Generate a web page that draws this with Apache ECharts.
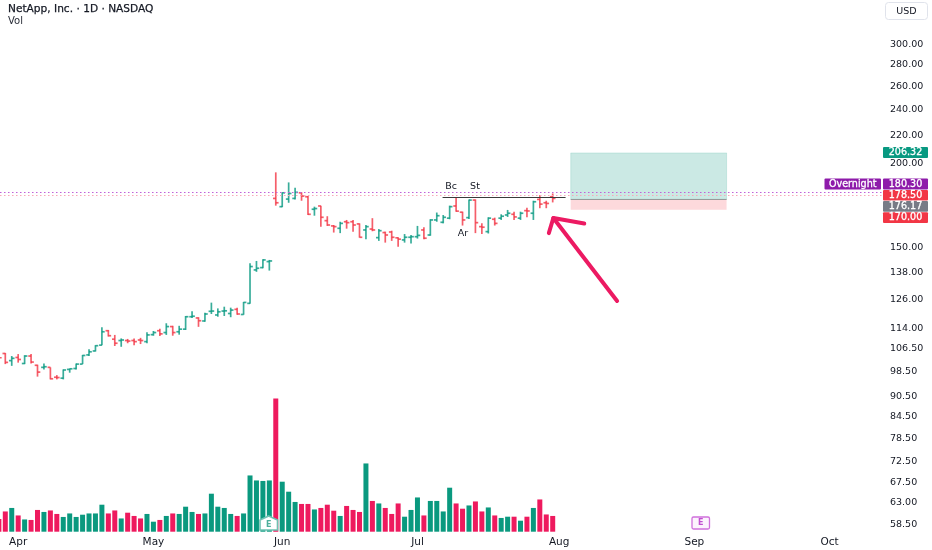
<!DOCTYPE html>
<html>
<head>
<meta charset="utf-8">
<style>html,body{margin:0;padding:0;background:#fff}#chart{width:932px;height:550px}</style>
<script src="https://cdn.jsdelivr.net/npm/echarts@6/dist/echarts.min.js"></script>
</head>
<body>
<div id="chart"></div>
<script>
// Bar numbers: trading-session index, -1 is the bar cut off by the left edge.
const firstBar = -1;
const opens = [103,104.2,101.7,102.8,100.7,103.3,100.1,99.4,99.4,96.1,95.8,98.7,99,100.5,103.7,105.1,107.2,112.6,109.4,108.9,108.9,108.9,109.1,108.5,111.1,112.6,111.9,114.2,112.2,113.2,118.1,117.6,116.4,120.3,118.8,120.4,119.4,121.1,119,123.6,138.5,139.6,142.5,176.7,171.8,176.3,176.7,180.1,177.7,170.3,172.2,163.8,160.9,159.6,163.2,163.2,162,158.7,159.2,154.6,157.3,157.6,154.5,153.4,154.8,155.1,158.7,156,164.2,162.9,165.2,172.2,168.6,165.5,175.7,160.5,157.8,164.6,165.2,167,167.4,165.2,169.5,168,176.1,174.1,177.7];
const highs = [104,104.4,103.3,104,103.6,104,100.3,100.7,99.4,96.8,98.7,99,100.7,103.7,105.7,107.2,113.9,112.9,111,109.7,109.5,109.7,109.9,112,112.5,113.4,115.5,114.5,114.5,118.4,120.3,117.9,119.7,123.9,121.5,122.2,121.8,121.8,124.2,141.7,142.8,143.6,143.3,193.1,180.4,186.6,183.2,180.4,178.1,171.8,172.4,166.3,161.4,163.2,164.2,164.2,162.3,161.4,165.2,159.2,157.8,158.3,154.8,156.5,156,160.9,160.2,164.6,168.4,167,172.4,177.3,168.9,176.1,176.1,162.3,165.7,165.5,167.4,169.9,168.9,168.9,171.2,175.3,178.7,175.3,179.7];
const lows = [101.5,100.5,99.9,101,100.5,100.7,96.3,98.7,95.4,95.4,95.4,97.6,98.7,100.5,103.3,104.9,107.2,110.4,106.9,106.6,107.9,107.2,107.6,107.9,110.7,110.6,111,110.7,111.1,112.9,117.6,114.1,116.1,119.2,118.1,118.4,117.9,118.9,118.9,123.4,137.6,139.3,138.2,172.4,171.5,174.1,176.1,175.3,167,166.6,160.5,160.9,157.3,157,159.4,157.8,154.6,153.8,158,152.9,152,152.9,149.9,152,151.6,154.1,153.8,155.6,163.2,162.3,164.6,168.9,161.1,164.8,157,156.5,156.8,161.1,164.2,165.9,164.2,164.2,165.7,164.2,170.9,170.9,174.3];
const closes = [102.7,101.1,102.5,102.1,103.3,101.2,97.8,99.6,95.6,96,98.5,98.9,100.5,103.5,104.8,107,112.2,110.7,107.9,109.1,108.7,108.5,108.9,111,111.9,111.4,114.2,111.9,113.2,118.1,118.3,116.5,119.2,120.4,120.1,120.5,120.8,119.2,124,140.1,139.3,143.3,142.8,174.1,180.1,179.7,180.4,178.1,167.4,170.7,165.7,161.4,160.5,162.3,162.7,161.4,154.8,160.5,158.7,158.3,156,154.8,153.8,154.8,155.1,155.8,154.3,164.2,166.6,165.7,171.8,169.2,164.2,175.7,162.7,160.2,165.2,162.3,166.3,168,165.9,168,169.3,174.7,173.3,173.7,176.7];
const volumes = [0.51,0.81,0.95,0.65,0.49,0.47,0.87,0.79,0.85,0.71,0.59,0.73,0.59,0.68,0.73,0.73,1.08,0.73,0.85,0.53,0.76,0.63,0.53,0.71,0.40,0.47,0.63,0.73,0.71,1.00,0.79,0.71,0.73,1.52,1.00,0.95,0.71,0.63,0.73,2.25,2.05,2.03,2.05,5.33,2.00,1.60,1.19,1.11,1.11,0.89,0.95,1.08,0.84,0.63,1.03,0.87,0.79,2.73,1.23,1.13,0.95,0.71,1.13,0.60,0.87,1.37,0.65,1.23,1.23,0.81,1.76,1.13,0.92,1.05,1.21,0.81,0.97,0.65,0.55,0.60,0.60,0.44,0.60,0.95,1.29,0.69,0.63];
const monthIndexes = [2,23,43,64,86,107,128];
const monthLabels = ['Apr','May','Jun','Jul','Aug','Sep','Oct'];
const priceTicks = [300,280,260,240,220,200,150,138,126,114,106.5,98.5,90.5,84.5,78.5,72.5,67.5,63,58.5];
const lastPrice = 178.5, overnightPrice = 180.3, targetPrice = 206.32, entryPrice = 176.17, stopPrice = 170;
const levelLinePrice = 177.3;
const arrowShaft = [[95,124.6],[85.1,165.3]];
const arrowHead = [[84.4,157],[85.1,165.3],[89.9,162.2]];

const GREEN = '#089981', RED = '#F23645', VOLRED = '#EE1A5E', VOLGREEN = '#0A997F';
const FONT = '"DejaVu Sans", sans-serif';
const TEXT = '#131722';

const bars = opens.map((o, i) => [i + firstBar, o, highs[i], lows[i], closes[i]]);
const vols = volumes.map((v, i) => ({
  value: [i + firstBar, v],
  itemStyle: { color: closes[i] >= opens[i] ? VOLGREEN : VOLRED }
}));

function renderBar(params, api) {
  const x = api.value(0), o = api.value(1), h = api.value(2), l = api.value(3), c = api.value(4);
  const top = api.coord([x, h]), bot = api.coord([x, l]);
  const op = api.coord([x, o]), cl = api.coord([x, c]);
  const color = c >= o ? GREEN : RED;
  const style = { stroke: color, lineWidth: 1.7, opacity: 0.8 };
  const lines = [
    [top[0], top[1], bot[0], bot[1]],
    [op[0] - 2.8, op[1], op[0], op[1]],
    [cl[0], cl[1], cl[0] + 2.8, cl[1]]
  ];
  return {
    type: 'group',
    children: lines.map(p => ({
      type: 'line', shape: { x1: p[0], y1: p[1], x2: p[2], y2: p[3] }, style
    }))
  };
}

function tag(x, y, w, h, fill, label) {
  return {
    type: 'group', z: 100,
    children: [
      { type: 'rect', shape: { x, y, width: w, height: h, r: 1 }, style: { fill } },
      { type: 'text', x: x + w / 2, y: y + h / 2 + 0.3,
        style: { text: label, fill: '#fff', stroke: '#fff', lineWidth: 0.3, font: '9.6px ' + FONT, align: 'center', verticalAlign: 'middle' } }
    ]
  };
}
function note(x, y, label) {
  return { type: 'text', x, y, z: 50,
    style: { text: label, fill: TEXT, font: '9.5px ' + FONT, align: 'center', verticalAlign: 'middle' } };
}

const xMin = -5.3 / 6.44, xMax = (882 - 5.3) / 6.44;

const option = {
  animation: false,
  backgroundColor: '#fff',
  grid: [
    { left: 0, right: 50, top: 0, bottom: 20 },
    { left: 0, right: 50, top: 341.7, bottom: 18.3 }
  ],
  xAxis: [
    { type: 'value', gridIndex: 0, min: xMin, max: xMax, splitLine: { show: false }, axisLine: { show: false }, axisTick: { show: false },
      axisLabel: { customValues: monthIndexes, margin: 6.5, color: TEXT, fontFamily: FONT, fontSize: 10.5,
        formatter: v => monthLabels[monthIndexes.indexOf(v)] || '' } },
    { type: 'value', gridIndex: 1, min: xMin, max: xMax, show: false }
  ],
  yAxis: [
    { type: 'log', gridIndex: 0, position: 'right', min: 57.12, max: 347.3, splitLine: { show: false }, axisLine: { show: false }, axisTick: { show: false },
      axisLabel: { customValues: priceTicks, margin: 8, hideOverlap: false,
        rich: { p: { color: TEXT, fontFamily: FONT, fontSize: 9.5, padding: [3, 0, 0, 0] } },
        formatter: v => '{p|' + Number(v).toFixed(2) + '}' } },
    { type: 'value', gridIndex: 1, min: 0, max: 7.6, show: false }
  ],
  series: [
    { type: 'bar', xAxisIndex: 1, yAxisIndex: 1, data: vols, barWidth: 5, z: 2 },
    { type: 'custom', xAxisIndex: 0, yAxisIndex: 0, data: bars, renderItem: renderBar, encode: { x: 0, y: [1, 2, 3, 4] }, z: 4, clip: true },
    { type: 'line', xAxisIndex: 0, yAxisIndex: 0, data: [], z: 1,
      markArea: { silent: true, data: [
        [{ coord: [87.8, targetPrice], itemStyle: { color: 'rgba(8,153,129,0.21)', borderColor: 'rgba(8,153,129,0.3)', borderWidth: 0.5 } }, { coord: [112, entryPrice] }],
        [{ coord: [87.8, entryPrice], itemStyle: { color: 'rgba(242,54,69,0.19)' } }, { coord: [112, stopPrice] }]
      ] },
      markLine: { silent: true, symbol: 'none', label: { show: false }, data: [
        { yAxis: overnightPrice, lineStyle: { color: '#C060D8', type: [1.5, 2.5], width: 1.2 } },
        { yAxis: lastPrice, lineStyle: { color: '#F9A8B8', type: [1.5, 2.5], width: 1.2 } },
        [{ coord: [67.9, levelLinePrice], lineStyle: { color: '#3a3a3a', type: 'solid', width: 1 } }, { coord: [87, levelLinePrice] }],
        [{ coord: [87.8, entryPrice], lineStyle: { color: '#9a9a9a', type: 'solid', width: 1 } }, { coord: [112, entryPrice] }]
      ] }
    },
    { type: 'line', xAxisIndex: 0, yAxisIndex: 0, data: arrowShaft, symbol: 'none', z: 6,
      lineStyle: { color: '#EC1A62', width: 4, cap: 'round' } },
    { type: 'line', xAxisIndex: 0, yAxisIndex: 0, data: arrowHead, symbol: 'none', z: 6,
      lineStyle: { color: '#EC1A62', width: 4, cap: 'round', join: 'round' } }
  ],
  graphic: [
    { type: 'text', x: 8, y: 9, style: { text: 'NetApp, Inc. · 1D · NASDAQ', fill: TEXT, stroke: TEXT, lineWidth: 0.25, font: '10.6px ' + FONT, verticalAlign: 'middle' } },
    { type: 'text', x: 8, y: 21, style: { text: 'Vol', fill: '#2a2e39', font: '10px ' + FONT, verticalAlign: 'middle' } },
    { type: 'rect', shape: { x: 885.5, y: 2.5, width: 42, height: 17, r: 3 }, style: { fill: '#fff', stroke: '#E0E3EB', lineWidth: 1 } },
    { type: 'text', x: 906.5, y: 11.5, style: { text: 'USD', fill: TEXT, font: '9.5px ' + FONT, align: 'center', verticalAlign: 'middle' } },
    note(451, 187, 'Bc'), note(475, 187, 'St'), note(463, 234, 'Ar'),
    tag(883, 147, 45, 11, '#089981', '206.32'),
    tag(824.5, 178.5, 56.5, 11, '#8E1BAA', 'Overnight'),
    tag(883, 178.5, 45, 11, '#8E1BAA', '180.30'),
    tag(883, 190, 45, 10.5, '#F23645', '178.50'),
    tag(883, 201, 45, 10.7, '#787B86', '176.17'),
    tag(883, 212.2, 45, 10.7, '#F23645', '170.00'),
    { type: 'polygon', z: 60, shape: { points: [[268.7,516],[277.5,520],[277.5,530],[260,530],[260,520]] },
      style: { fill: '#fff', stroke: '#6FC2B2', lineWidth: 1.6 } },
    { type: 'text', z: 61, x: 268.7, y: 524.5, style: { text: 'E', fill: '#4DAF9C', font: 'bold 8px ' + FONT, align: 'center', verticalAlign: 'middle' } },
    { type: 'rect', z: 60, shape: { x: 692, y: 517, width: 17.5, height: 12, r: 1.5 }, style: { fill: '#FCF3FD', stroke: '#D070DC', lineWidth: 1.3 } },
    { type: 'text', z: 61, x: 700.7, y: 523.2, style: { text: 'E', fill: '#C050D0', font: 'bold 8px ' + FONT, align: 'center', verticalAlign: 'middle' } }
  ]
};
const chart = echarts.init(document.getElementById('chart'));
chart.setOption(option);
</script>
</body>
</html>
